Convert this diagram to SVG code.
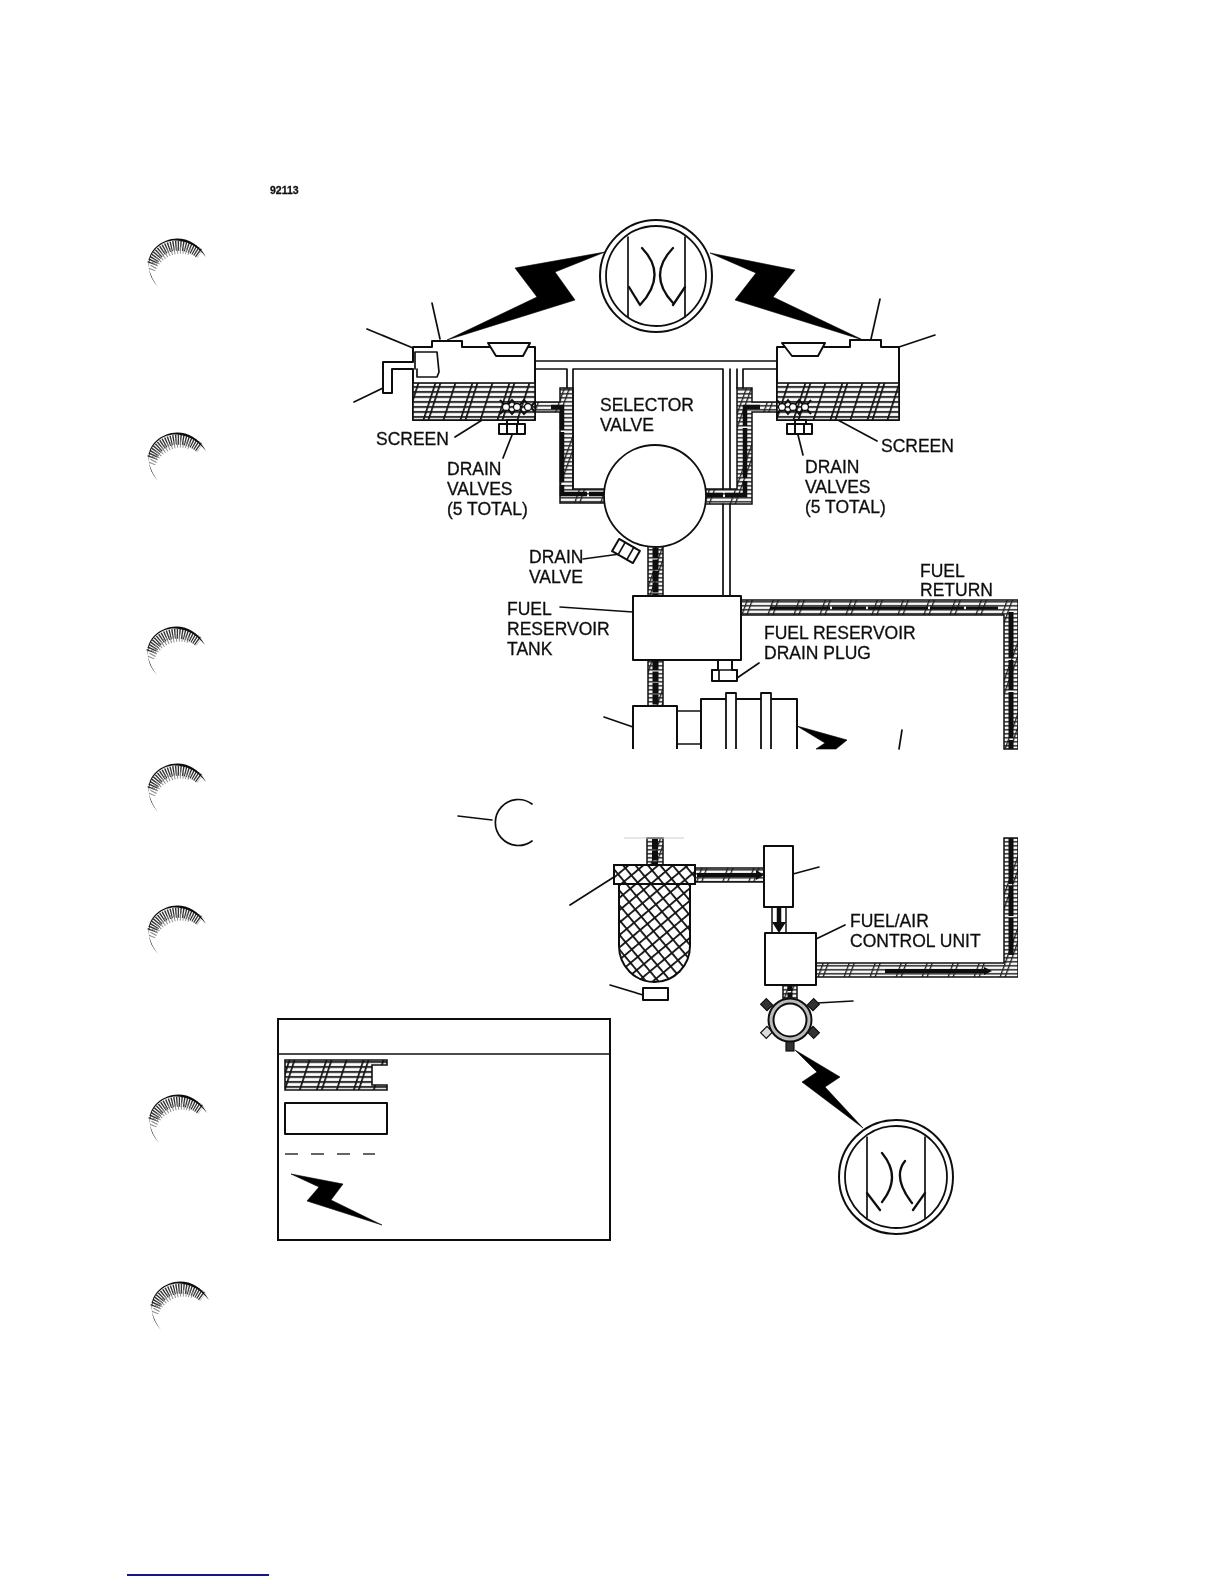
<svg xmlns="http://www.w3.org/2000/svg" xmlns:xlink="http://www.w3.org/1999/xlink" width="1224" height="1584" viewBox="0 0 1224 1584">
<style>
text{font-family:"Liberation Sans",Arial,sans-serif;font-size:17.5px;fill:#111;stroke:#111;stroke-width:.3}
.l{fill:none;stroke:#111;stroke-width:1.7;stroke-linecap:round;stroke-linejoin:round}
.c{fill:none;stroke:#111;stroke-width:2.3;stroke-linecap:round}
.b{fill:#fff;stroke:#111;stroke-width:2;stroke-linejoin:round}
.h{fill:url(#fuel);stroke:#111;stroke-width:1.6}
.p{fill:url(#pipe);stroke:#111;stroke-width:1.5}
.flow{fill:none;stroke:#0a0a0a;stroke-width:4.5;stroke-dasharray:34 2 50 3}
.bolt{fill:#050505;stroke:#050505;stroke-width:.6;stroke-linejoin:round}
.x{fill:url(#cross);stroke:#111;stroke-width:2}
</style>
<defs>
<filter id="soft" x="0" y="0" width="100%" height="100%"><feGaussianBlur stdDeviation="0.35"/></filter>
<pattern id="fuel" width="37" height="5" patternUnits="userSpaceOnUse" patternTransform="translate(3 0) skewX(-18)">
<rect width="37" height="5" fill="#fff"/><rect y="1" width="37" height="1.9" fill="#111"/>
<rect x="1" width="1.8" height="5" fill="#111"/><rect x="6" width="1.8" height="5" fill="#111"/><rect x="21" width="1.8" height="5" fill="#111"/>
</pattern>
<pattern id="pipe" width="26" height="4" patternUnits="userSpaceOnUse" patternTransform="skewX(-20)">
<rect width="26" height="4" fill="#fff"/><rect y="1" width="26" height="1.6" fill="#222"/>
<rect x="3" width="1.4" height="4" fill="#222"/><rect x="8" width="1.4" height="4" fill="#222"/>
</pattern>
<pattern id="cross" width="9.5" height="9.5" patternUnits="userSpaceOnUse" patternTransform="rotate(50) translate(2 2)">
<rect width="9.5" height="9.5" fill="#fff"/><rect width="1.8" height="9.5" fill="#111"/><rect width="9.5" height="1.8" fill="#111"/>
</pattern>
<g id="crescent">
<path d="M152,264C158,247 180,238 200,254" fill="none" stroke="#333" stroke-width="10" stroke-dasharray="1.300 1.100"/>
<path d="M152,270C158,255 176,246 190,252" fill="none" stroke="#888" stroke-width="7" stroke-dasharray="1 2"/>
<path d="M158,287C146,271 146,256 156,247C170,234 194,235 206,257C194,241 176,238 166,242C154,247 149,256 149,266C149,275 153,281 158,287Z" fill="#0c0c0c"/>
</g>
</defs>
<rect width="1224" height="1584" fill="#fff"/>
<g filter="url(#soft)">
<g id="margin-marks">
<use xlink:href="#crescent"/>
<use xlink:href="#crescent" y="194"/>
<use xlink:href="#crescent" x="-1" y="388"/>
<use xlink:href="#crescent" y="525"/>
<use xlink:href="#crescent" y="667"/>
<use xlink:href="#crescent" x="1" y="856"/>
<use xlink:href="#crescent" x="3" y="1043"/>
<rect x="127" y="1574" width="142" height="2" fill="#16168a"/>
</g>
<text id="figure-number" x="270" y="194" style="font-size:10.5px;font-weight:bold">92113</text>

<g id="connectors">
<g id="pipes">
<path class="p" d="M535,402H560V388H573V489H606V503H560V412H535Z"/>
<path class="p" d="M777,402H752V388H737V489H705V504H752V412H777Z"/>
<path class="flow" d="M551,407H562V494H607"/>
<path class="flow" d="M760,407H745V495H704"/>
<rect class="p" x="648" y="546" width="15" height="52"/>
<path d="M655.500,548V598" stroke="#0a0a0a" stroke-width="6" stroke-dasharray="10 1.500"/>
<rect class="p" x="648" y="660" width="15" height="47"/>
<path d="M655.500,660V705" stroke="#0a0a0a" stroke-width="6" stroke-dasharray="10 1.500"/>
<path class="p" d="M741,600H1018V749H1004V615H741Z"/>
<path d="M770,608H998" stroke="#0a0a0a" stroke-width="3" stroke-dasharray="60 2 34 2" fill="none"/>
<path d="M1011,612V749" stroke="#0a0a0a" stroke-width="5" stroke-dasharray="46 2 30 2" fill="none"/>
<rect class="p" x="647" y="838" width="16" height="28"/>
<path d="M655,839V865" stroke="#0a0a0a" stroke-width="6" stroke-dasharray="10 1.500"/>
<rect class="p" x="695" y="868" width="70" height="14"/>
<path d="M697,875H756" stroke="#0a0a0a" stroke-width="4" fill="none"/>
<path d="M756,870L764,875L756,880Z" fill="#0a0a0a"/>
<rect x="772" y="907" width="14" height="26" fill="#fff" stroke="#111" stroke-width="1.500"/>
<path d="M779,907V925" stroke="#0a0a0a" stroke-width="4.500"/>
<path d="M772,922H786L779,933Z" fill="#0a0a0a"/>
<path class="p" d="M816,963H1004V838H1018V977H816Z"/>
<path d="M1011,838V955" stroke="#0a0a0a" stroke-width="5" stroke-dasharray="46 2 30 2" fill="none"/>
<path d="M885,971H984" stroke="#0a0a0a" stroke-width="4" fill="none"/>
<path d="M984,967L992,971L984,975Z" fill="#0a0a0a"/>
<rect class="p" x="783" y="985" width="14" height="15"/>
<path d="M790,986V999" stroke="#0a0a0a" stroke-width="5" stroke-dasharray="5 1.500"/>
<path d="M624,838H684" stroke="#ccc" stroke-width="1"/>
</g>
<g id="leaders">
<path class="l" d="M367,329L413,348M432,303L440,339M354,402L383,388M455,437L487,417M503,458L512,435"/>
<path class="l" d="M935,335L899,347M880,299L871,339M877,441L823,412M803,455L798,435"/>
<path class="l" d="M583,559L620,554M560,607L633,612M737,678L759,663M604,717L633,727M902,730L899,749"/>
<path class="l" d="M458,816L492,820M570,905L614,877M610,985L643,995M793,874L819,867M816,939L845,925M817,1003L853,1001"/>
</g>
<g id="bolts">
<path class="bolt" d="M605,252L555,272L575,300L447,340L537,297L515,268Z"/>
<path class="bolt" d="M710,253L795,270L773,297L863,340L735,300L756,273Z"/>
<path class="bolt" d="M797,726L847,740L836,749H816L825,743Z"/>
<path class="bolt" d="M795,1050L840,1077L825,1087L863,1128L802,1082L817,1072Z"/>
</g>
</g>

<g id="left-tank">
<path class="b" d="M385,362H413V347H432V341H462V347H535V361V420H413V369H392V393H383V362Z"/>
<path class="l" d="M415,369V352H437L439,372L437,377H417V369"/>
<path class="b" d="M488,343H530L523,356H496Z"/>
<rect class="h" x="413" y="383" width="122" height="37"/>
<path d="M500,400L512,414L524,400L535,412M500,414L512,400L524,414L535,402" stroke="#111" stroke-width="2" fill="none"/>
<g fill="#fff" stroke="#111" stroke-width="1.300"><circle cx="506" cy="407" r="3.500"/><circle cx="517" cy="407" r="3.500"/><circle cx="528" cy="407" r="3.500"/></g>
<path class="b" d="M507,420H518V424H507Z" stroke-width="1.300"/>
<path class="b" d="M499,424H525V434H499ZM507,424V434M517,424V434" stroke-width="1.500"/>
</g>
<g id="right-tank">
<path class="b" d="M777,362V347H850V340H881V347H899V420H777Z"/>
<path class="b" d="M782,343H825L818,356H792Z"/>
<rect class="h" x="777" y="383" width="122" height="37"/>
<path d="M777,400L788,414L799,400L811,414M777,414L788,400L799,414L811,400" stroke="#111" stroke-width="2" fill="none"/>
<g fill="#fff" stroke="#111" stroke-width="1.300"><circle cx="782" cy="407" r="3.500"/><circle cx="793" cy="407" r="3.500"/><circle cx="805" cy="407" r="3.500"/></g>
<path class="b" d="M795,420H806V424H795Z" stroke-width="1.300"/>
<path class="b" d="M787,424H812V434H787ZM795,424V434M804,424V434" stroke-width="1.500"/>
</g>
<g id="selector-valve">
<path class="l" d="M535,361H777M535,369V383M535,369H567V388M573,489V369H723V489M730,369V489M737,369V388M743,388V369H777V383"/>
<path class="l" d="M723,504V596M730,504V596"/>
<circle cx="655" cy="496" r="51" fill="#fff" stroke="#111" stroke-width="1.800"/>
<g transform="rotate(30 626 551)"><rect class="b" x="614" y="544" width="24" height="14" stroke-width="1.500"/><path class="l" d="M621,544V558M631,544V558"/></g>
</g>
<g id="fuel-reservoir-tank">
<rect class="b" x="633" y="596" width="108" height="64"/>
<path class="b" d="M718,660H732V670H737V681H712V670H718Z" stroke-width="1.500"/>
<path class="l" d="M712,670H737M719,670V681"/>
</g>
<g id="pump">
<path class="b" d="M633,749V706H677V749"/>
<path class="l" d="M677,711H701M677,744H701"/>
<path class="b" d="M701,749V699H797V749"/>
<path class="b" d="M726,749V693H736V749M761,749V693H771V749" style="stroke-width:1.800"/>
</g>
<g id="pump-detail-circle">
<path class="l" d="M532,804A23,23 0 1,0 532,841"/>
</g>
<g id="fuel-filter">
<path class="x" d="M619,884V946A35.500,36 0 0,0 690,946V884Z"/>
<rect class="x" x="614" y="865" width="81" height="19"/>
<path class="b" d="M643,988H668V1000H643Z" stroke-width="1.500"/>
</g>
<g id="fuel-pump-box"><rect class="b" x="764" y="846" width="29" height="61"/></g>
<g id="fuel-air-control-unit"><rect class="b" x="765" y="933" width="51" height="52"/></g>
<g id="manifold">
<g fill="#333" stroke="#111" stroke-width="1.200">
<rect x="762" y="1001" width="9" height="8" transform="rotate(45 767 1005)"/>
<rect x="809" y="1001" width="9" height="8" transform="rotate(-45 813 1005)"/>
<rect x="762" y="1028" width="9" height="8" fill="#ddd" transform="rotate(-45 767 1032)"/>
<rect x="809" y="1028" width="9" height="8" transform="rotate(45 813 1032)"/>
<rect x="786" y="1041" width="8" height="10"/>
</g>
<circle cx="790" cy="1020" r="21.500" fill="#bbb" stroke="#111" stroke-width="2"/>
<circle cx="790" cy="1020" r="16.500" fill="#fff" stroke="#111" stroke-width="2"/>
</g>
<g id="nozzle-detail-top">
<circle cx="656" cy="276" r="56" fill="#fff" stroke="#111" stroke-width="2"/>
<circle cx="656" cy="276" r="50" fill="#fff" stroke="#111" stroke-width="1.800"/>
<path class="l" d="M628,237V317M685,237V317"/>
<path class="c" d="M642,248Q668,275 640,305M629,287L640,305M673,248Q647,275 673,303M685,287L673,305"/>
</g>
<g id="nozzle-detail-bottom">
<circle cx="896" cy="1177" r="57" fill="#fff" stroke="#111" stroke-width="2"/>
<circle cx="896" cy="1177" r="51" fill="#fff" stroke="#111" stroke-width="1.800"/>
<path class="l" d="M867,1137V1218M925,1137V1218"/>
<path class="c" d="M882,1153Q902,1177 882,1202M867,1193L880,1210M905,1161Q892,1177 912,1203M925,1193L913,1210"/>
</g>
<g id="legend">
<rect x="278" y="1019" width="332" height="221" fill="#fff" stroke="#111" stroke-width="2"/>
<path class="l" d="M278,1054H610"/>
<path class="h" d="M285,1060H387V1065H372V1085H387V1090H285Z"/>
<rect class="b" x="285" y="1103" width="102" height="31"/>
<path d="M285,1154H375" stroke="#333" stroke-width="1.500" stroke-dasharray="13 13"/>
<path class="bolt" d="M291,1174L343,1184L331,1200L382,1225L307,1201L319,1187Z"/>
</g>
<g id="labels">
<text x="376" y="445">SCREEN</text>
<text x="447" y="475">DRAIN</text><text x="447" y="495">VALVES</text><text x="447" y="515">(5 TOTAL)</text>
<text x="600" y="411">SELECTOR</text><text x="600" y="431">VALVE</text>
<text x="881" y="452">SCREEN</text>
<text x="805" y="473">DRAIN</text><text x="805" y="493">VALVES</text><text x="805" y="513">(5 TOTAL)</text>
<text x="529" y="563">DRAIN</text><text x="529" y="583">VALVE</text>
<text x="507" y="615">FUEL</text><text x="507" y="635">RESERVOIR</text><text x="507" y="655">TANK</text>
<text x="920" y="577">FUEL</text><text x="920" y="596">RETURN</text>
<text x="764" y="639">FUEL RESERVOIR</text><text x="764" y="659">DRAIN PLUG</text>
<text x="850" y="927">FUEL/AIR</text><text x="850" y="947">CONTROL UNIT</text>
</g>
</g>
</svg>
